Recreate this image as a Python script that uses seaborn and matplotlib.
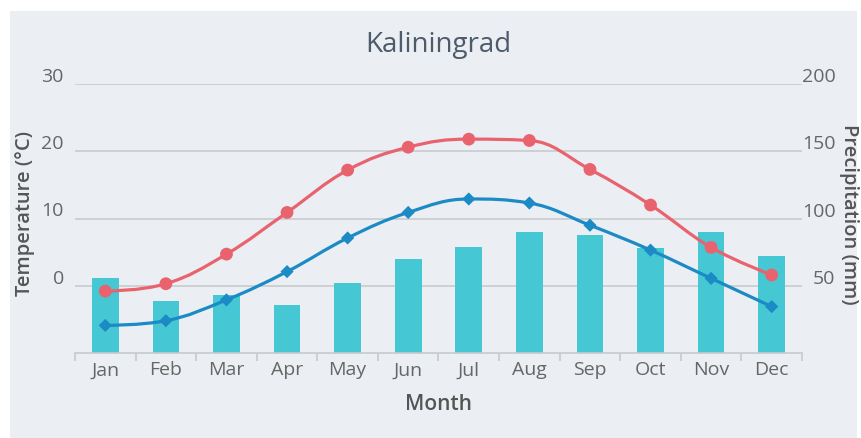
import matplotlib
matplotlib.use("Agg")
import matplotlib.pyplot as plt
from matplotlib.path import Path
from matplotlib.patches import PathPatch, Rectangle
from matplotlib.transforms import ScaledTranslation
import seaborn as sns
import pandas as pd
import numpy as np

months = ["Jan", "Feb", "Mar", "Apr", "May", "Jun", "Jul", "Aug", "Sep", "Oct", "Nov", "Dec"]
temp_max = [-0.8, 0.3, 4.7, 10.9, 17.2, 20.6, 21.8, 21.6, 17.3, 12.0, 5.7, 1.6]
temp_min = [-5.9, -5.2, -2.1, 2.1, 7.1, 10.9, 12.9, 12.3, 9.0, 5.3, 1.1, -3.1]
precip = [56, 39, 43, 36, 52, 70, 79, 90, 88, 78, 90, 72]
temp_ticks = [0, 10, 20, 30]
precip_ticks = [50, 100, 150, 200]

BG = "#ebeff4"
RED = "#e9636f"
BLUE = "#1b8ac5"
TEAL = "#45c8d4"
GRID = "#c9cbcd"
TXT = "#666666"
TITLE_C = "#555555"

sns.set_theme(style="white")
plt.rcParams["font.family"] = ["Open Sans", "DejaVu Sans"]

W, H = 861, 438
fig = plt.figure(figsize=(W / 100, H / 100), dpi=100, facecolor="white")
fig.patches.append(Rectangle((10 / W, 0), (857 - 10) / W, (H - 11) / H,
                             transform=fig.transFigure, facecolor=BG,
                             edgecolor="none", zorder=-10))

x0, x1, ytop, ybot = 75, 802, 84, 353
ax = fig.add_axes([x0 / W, 1 - ybot / H, (x1 - x0) / W, (ybot - ytop) / H])
ax2 = ax.twinx()

df = pd.DataFrame({"Month": months, "Precip": precip})
sns.barplot(data=df, x="Month", y="Precip", ax=ax2, color=TEAL, width=0.44,
            saturation=1, edgecolor="none", linewidth=0, zorder=2)
ax2.set_ylim(0, 200)
ax2.set_yticks(precip_ticks)
ax2.grid(axis="y", color=GRID, linewidth=1.2, zorder=0)
ax2.set_axisbelow(True)
ax2.set_ylabel("")
ax2.set_xlabel("")

ax.set_zorder(ax2.get_zorder() + 1)
ax.patch.set_visible(False)
ax.set_ylim(-10, 30)
ax.set_yticks(temp_ticks)
ax.set_xlim(-0.5, 11.5)
ax2.set_xlim(-0.5, 11.5)


def spline_path(xs, ys, smoothing=1.5):
    denom = smoothing + 1
    n = len(xs)
    right = [None] * n
    verts = [(xs[0], ys[0])]
    codes = [Path.MOVETO]
    for i in range(1, n):
        px, py = xs[i], ys[i]
        lx, ly = xs[i - 1], ys[i - 1]
        if i < n - 1:
            nx, ny = xs[i + 1], ys[i + 1]
            lcx = (smoothing * px + lx) / denom
            lcy = (smoothing * py + ly) / denom
            rcx = (smoothing * px + nx) / denom
            rcy = (smoothing * py + ny) / denom
            corr = ((rcy - lcy) * (rcx - px)) / (rcx - lcx) + py - rcy
            lcy += corr
            rcy += corr
            if lcy > ly and lcy > py:
                lcy = max(ly, py); rcy = 2 * py - lcy
            elif lcy < ly and lcy < py:
                lcy = min(ly, py); rcy = 2 * py - lcy
            if rcy > ny and rcy > py:
                rcy = max(ny, py); lcy = 2 * py - rcy
            elif rcy < ny and rcy < py:
                rcy = min(ny, py); lcy = 2 * py - rcy
            right[i] = (rcx, rcy)
        else:
            lcx, lcy = px, py
        c1 = right[i - 1] if right[i - 1] is not None else (lx, ly)
        verts += [c1, (lcx, lcy), (px, py)]
        codes += [Path.CURVE4] * 3
    return Path(verts, codes)


xs = list(range(len(months)))
for vals, col in [(temp_max, RED), (temp_min, BLUE)]:
    ax.add_patch(PathPatch(spline_path(xs, vals), facecolor="none", edgecolor=col,
                           linewidth=2.3, zorder=3, capstyle="round"))

tdf = pd.DataFrame({"x": xs, "max": temp_max, "min": temp_min})
sns.scatterplot(data=tdf, x="x", y="max", ax=ax, color=RED, marker="o", s=85,
                edgecolor="none", zorder=4)
sns.scatterplot(data=tdf, x="x", y="min", ax=ax, color=BLUE, marker="D", s=45,
                edgecolor="none", zorder=4)
ax.set_xlabel("")
ax.set_ylabel("")

for a in (ax, ax2):
    for s in a.spines.values():
        s.set_visible(False)
ax.spines["bottom"].set_visible(True)
ax.spines["bottom"].set_color("#c6cacf")
ax.spines["bottom"].set_linewidth(1.2)

# y ticks
ax.tick_params(axis="y", length=0, pad=8, labelsize=14, labelcolor=TXT)
ax2.tick_params(axis="y", length=0, pad=24, labelsize=14, labelcolor=TXT)
for lab in ax2.get_yticklabels():
    lab.set_horizontalalignment("right")
off = ScaledTranslation(0, 9 / 100, fig.dpi_scale_trans)
for lab in ax.get_yticklabels() + ax2.get_yticklabels():
    lab.set_transform(lab.get_transform() + off)

# x ticks
ax2.tick_params(axis="x", which="both", length=0, labelbottom=False)
ax.set_xticks(xs)
ax.set_xticks(np.arange(-0.5, 12, 1), minor=True)
ax.set_xticklabels(months)
ax.tick_params(axis="x", which="major", length=0, pad=6, labelsize=14, labelcolor=TXT)
ax.tick_params(axis="x", which="minor", length=6, width=1.2, color="#c6cacf",
               direction="out", bottom=True)

fig.text(25 / W, 1 - 213 / H, "Temperature (°C)", rotation=90, ha="center",
         va="center", fontsize=14.5, color=TITLE_C, fontweight="semibold")
fig.text(849 / W, 1 - 214 / H, "Precipitation (mm)", rotation=270, ha="center",
         va="center", fontsize=14.5, color=TITLE_C, fontweight="semibold")
fig.text((x0 + x1) / 2 / W, 1 - 405 / H, "Month", ha="center", va="center",
         fontsize=15, color=TITLE_C, fontweight="semibold")
fig.text(438 / W, 1 - 45 / H, "Kaliningrad", ha="center", va="center",
         fontsize=20, color="#4e5b6b")

fig.savefig("out.png", dpi=100, facecolor="white")
